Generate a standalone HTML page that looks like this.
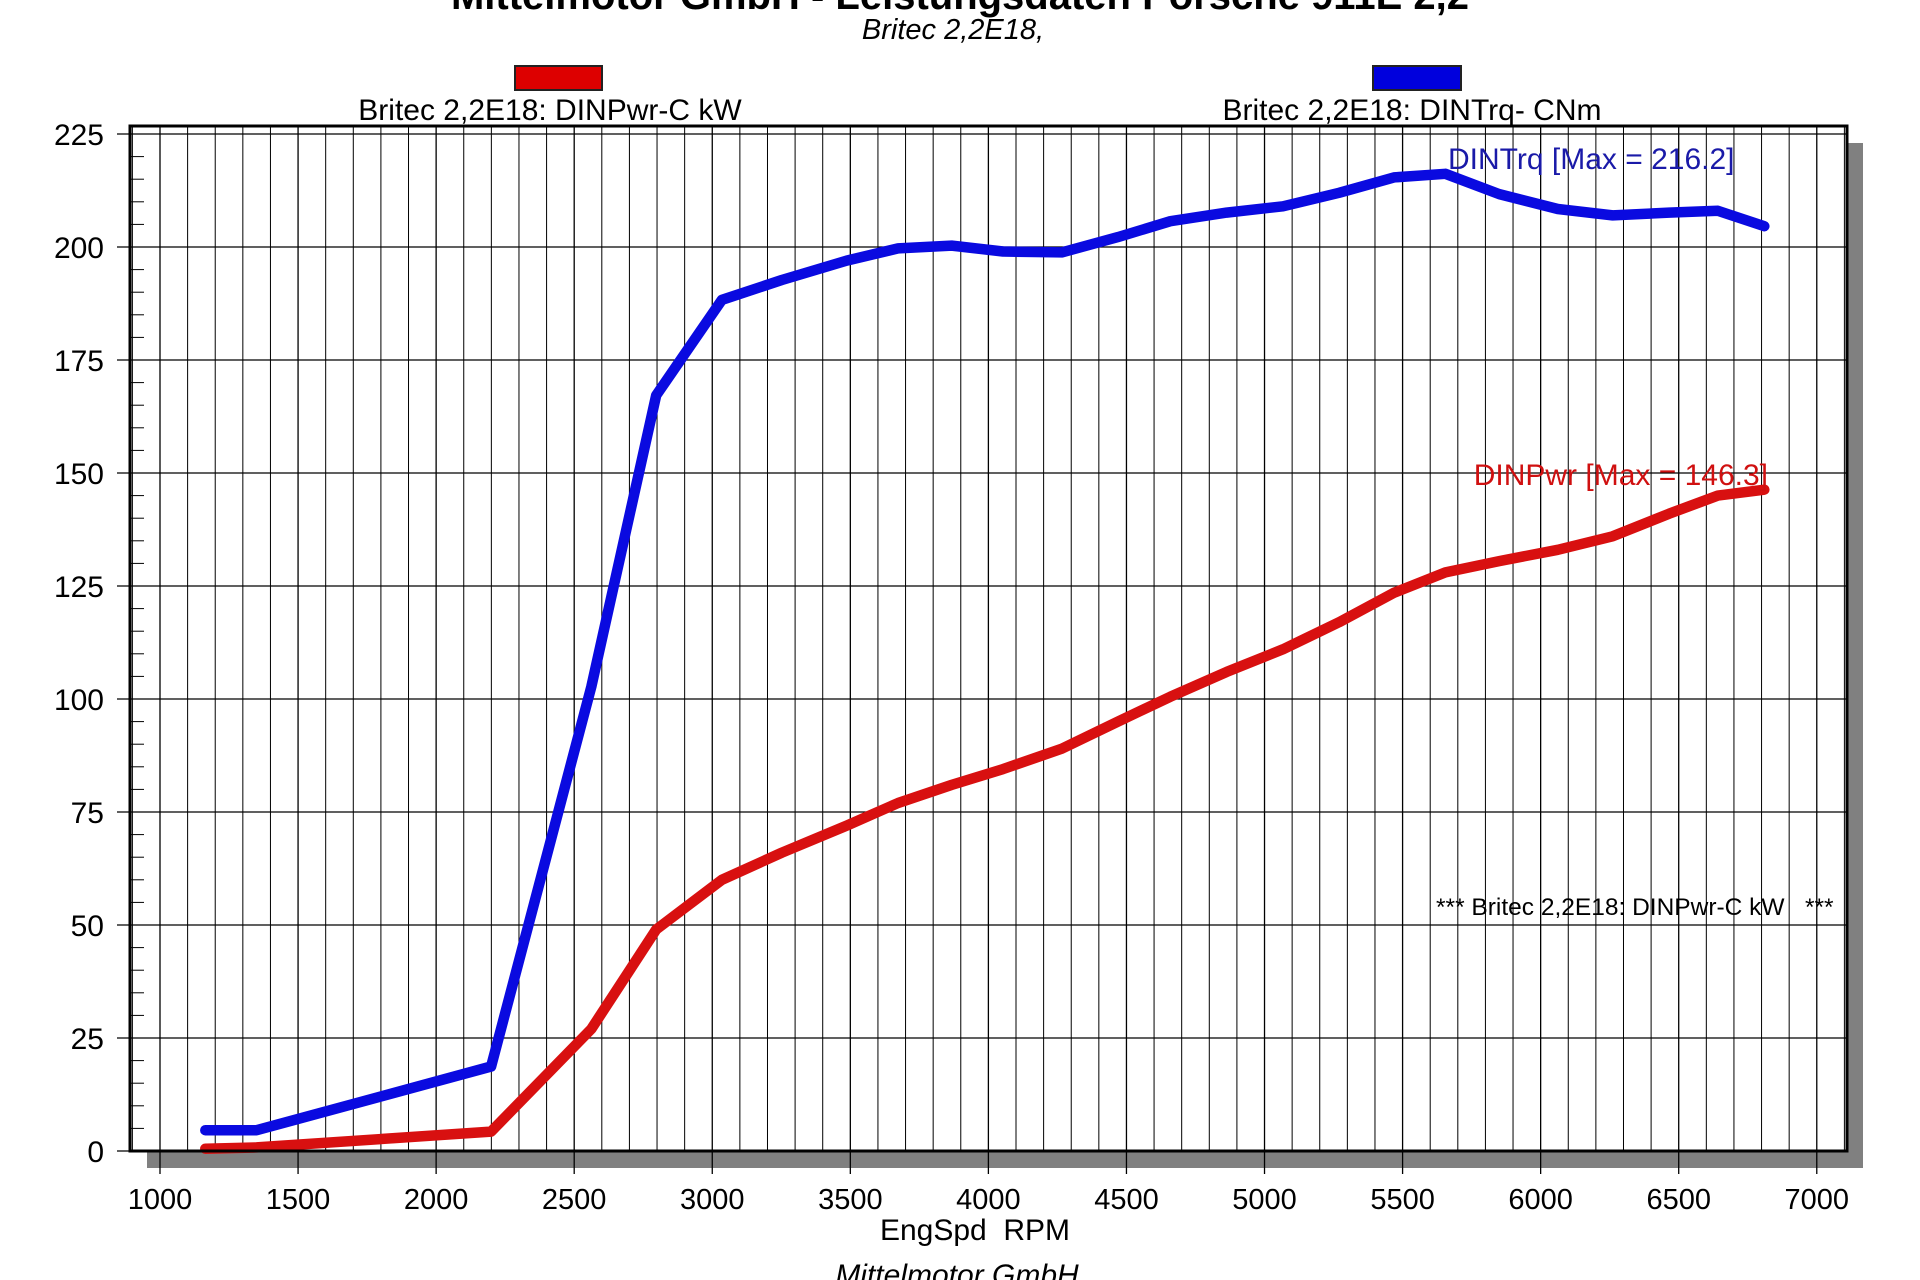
<!DOCTYPE html>
<html><head><meta charset="utf-8"><style>
html,body{margin:0;padding:0;background:#fff;}
svg{display:block;font-family:"Liberation Sans",Arial,sans-serif;}
</style></head><body>
<svg id="chart" width="1920" height="1280" viewBox="0 0 1920 1280">
<text x="960" y="9" text-anchor="middle" font-size="40" font-weight="bold">Mittelmotor GmbH - Leistungsdaten Porsche 911E 2,2</text>
<text x="953" y="39" text-anchor="middle" font-size="29" font-style="italic">Britec 2,2E18,</text>
<rect x="515" y="66" width="87" height="24" fill="#dd0000" stroke="#222" stroke-width="2"/>
<text x="550" y="120" text-anchor="middle" font-size="30">Britec 2,2E18: DINPwr-C kW</text>
<rect x="1373" y="66" width="88" height="24" fill="#0000dd" stroke="#222" stroke-width="2"/>
<text x="1412" y="120" text-anchor="middle" font-size="30">Britec 2,2E18: DINTrq- CNm</text>
<rect x="147" y="143" width="1716" height="1025" fill="#808080"/>
<rect x="130" y="126" width="1717" height="1025" fill="#fff"/>
<g id="grid"></g>
<g id="series"></g>
<rect x="130" y="126" width="1717" height="1025" fill="none" stroke="#000" stroke-width="3"/>
<g id="axes"></g>
<text x="1448" y="169" font-size="30" fill="#1a1aa8">DINTrq [Max = 216.2]</text>
<text x="1768" y="485" text-anchor="end" font-size="30" fill="#d01010">DINPwr [Max = 146.3]</text>
<text x="1436" y="915" font-size="24.5" fill="#000" xml:space="preserve">*** Britec 2,2E18: DINPwr-C kW   ***</text>
<text x="975" y="1240" text-anchor="middle" font-size="30" xml:space="preserve">EngSpd  RPM</text>
<text x="957" y="1285" text-anchor="middle" font-size="30" font-style="italic">Mittelmotor GmbH</text>
</svg>
<script>
const rpm = [1164,1350,2199,2562,2797,3035,3252,3487,3673,3867,4053,4266,4469,4659,4863,5067,5270,5469,5655,5850,6062,6261,6465,6642,6810];
const torque = [4.6,4.6,18.7,102.7,167.2,188.3,192.7,197,199.7,200.3,199,198.8,202.2,205.7,207.6,209,212,215.4,216.2,211.7,208.4,207,207.6,208,204.6];
const power = [0.5,0.8,4.3,27,49,60,66,72,77,81,84.5,89,95,100.5,106,111,117,123.5,128,130.5,133,136,141,145,146.3];
const xTicks = [1000,1500,2000,2500,3000,3500,4000,4500,5000,5500,6000,6500,7000];
const yTicks = [0,25,50,75,100,125,150,175,200,225];

const NS = "http://www.w3.org/2000/svg";
function X(r){ return 160 + (r - 1000) * 0.27613; }
function Y(v){ return 1151 - v * 4.52; }
function mk(tag, attrs, parent){
  const e = document.createElementNS(NS, tag);
  for (const k in attrs) e.setAttribute(k, attrs[k]);
  parent.appendChild(e); return e;
}
const grid = document.getElementById('grid');
const axes = document.getElementById('axes');
const series = document.getElementById('series');

for (let r = 900; r <= 7100; r += 100) {
  const x = X(r);
  if (x < 131 || x > 1846) continue;
  const major = r % 500 === 0;
  const l = mk('line', {x1:x, y1:126, x2:x, y2: major ? 1174 : 1151, stroke:'#000', 'stroke-width': major ? 1.3 : 1}, grid);
  
  
}
yTicks.forEach(v => {
  const y = Y(v);
  const l = mk('line', {x1:117, y1:y, x2:1847, y2:y, stroke:'#000', 'stroke-width':1.3}, grid);
  
  
  const t = mk('text', {x:104, y:y+11, 'text-anchor':'end', 'font-size':30}, axes);
  t.textContent = v;
  
  
});
for (let v = 5; v < 227; v += 5) {
  if (v % 25 === 0) continue;
  const l = mk('line', {x1:130, y1:Y(v), x2:144, y2:Y(v), stroke:'#000', 'stroke-width':1}, axes);
  
  
}
xTicks.forEach(r => {
  const t = mk('text', {x:X(r), y:1209, 'text-anchor':'middle', 'font-size':29}, axes);
  t.textContent = r;
  
  
});
function drawLine(vals, color, name){
  const pts = rpm.map((r,i) => X(r).toFixed(1) + ',' + Y(vals[i]).toFixed(1)).join(' ');
  const p = mk('polyline', {points:pts, fill:'none', stroke:color, 'stroke-width':10.5, 'stroke-linejoin':'round', 'stroke-linecap':'round'}, series);
  
  
}
drawLine(power, '#d81010', 'power-line');
drawLine(torque, '#0a0ae0', 'torque-line');
</script>
</body></html>
